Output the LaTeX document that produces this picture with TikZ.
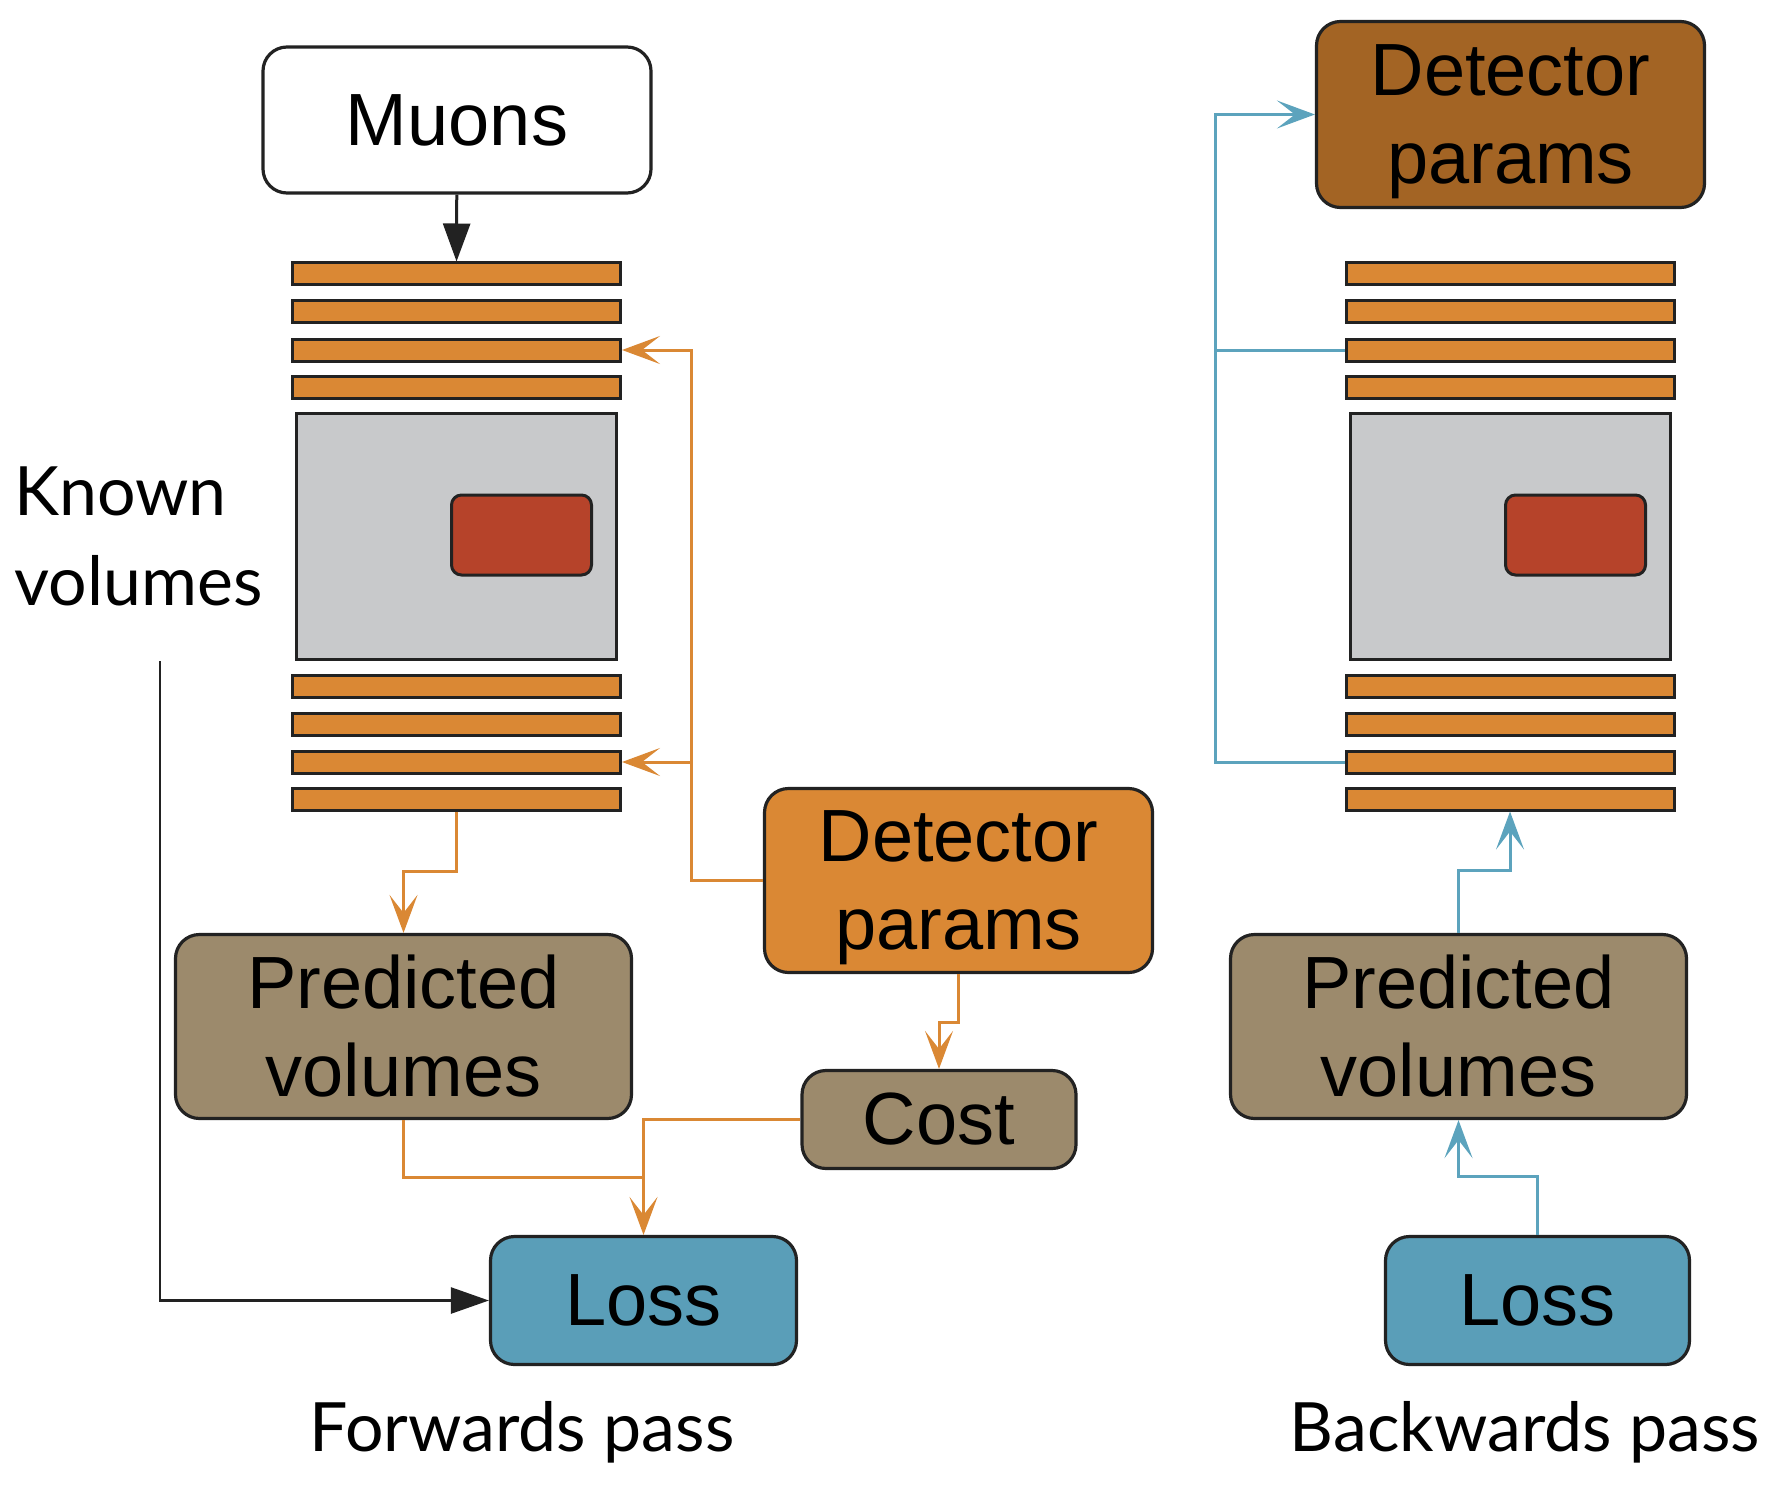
\documentclass[tikz,border=0pt]{standalone}
\usepackage{fontspec}
\setmainfont{Liberation Sans}
\newfontfamily\labelfont{Lato}
\usetikzlibrary{arrows.meta}

\definecolor{layerorange}{HTML}{DA8834}
\definecolor{voidgray}{HTML}{C8C9CB}
\definecolor{blockred}{HTML}{B6432A}
\definecolor{parambrown}{HTML}{A36424}
\definecolor{predtaupe}{HTML}{9C8A6C}
\definecolor{lossblue}{HTML}{5A9EB8}
\definecolor{gradblue}{HTML}{5CA3BD}
\definecolor{edgegray}{HTML}{222222}

\newcommand{\nodepth}[1]{\raisebox{0pt}[\height][0pt]{#1}}

\begin{document}
\begin{tikzpicture}[x=0.5pt, y=-0.5pt,
		box/.style={draw=edgegray, line width=1.6pt, rounded corners=12pt, inner sep=0pt,
			align=center, font=\fontsize{37}{44}\selectfont},
		layer/.style={draw=edgegray, fill=layerorange, line width=1.5pt, inner sep=0pt,
			minimum width=164pt, minimum height=11pt},
		void/.style={draw=edgegray, fill=voidgray, line width=1.5pt, inner sep=0pt,
			minimum width=160pt, minimum height=123pt},
		block/.style={draw=edgegray, fill=blockred, line width=1.5pt, inner sep=0pt,
			rounded corners=5pt, minimum width=70pt, minimum height=40pt},
		passlabel/.style={font=\labelfont\fontsize{34}{45}\selectfont, inner sep=0pt},
		fwd/.style={draw=layerorange, line width=1.5pt},
		fwdarrow/.style={fwd, -{Stealth[length=19pt, width=14pt, inset=9pt]}},
		bwd/.style={draw=gradblue, line width=1.5pt},
		bwdarrow/.style={bwd, -{Stealth[length=19pt, width=14pt, inset=9pt]}},
		known/.style={draw=edgegray, line width=1.3pt, -{Triangle[length=19pt, width=13pt]}}]
	\useasboundingbox (0,0) rectangle (1780,1492);

	% forwards pass
	\node[box, fill=white, minimum width=194pt, minimum height=73pt] (muons) at (457,120) {Muons};

	\foreach \y [count=\i] in {274, 312, 350, 387, 686, 724, 762, 799}
		\node[layer] (L\i) at (456.5,\y) {};
	\node[void] (voidL) at (456,536.5) {};
	\node[block] (blockL) at (521.5,535) {};

	\node[box, fill=layerorange, minimum width=194pt, minimum height=92pt] (detL) at (958.5,880.5) {Detector\\\nodepth{params}};
	\node[box, fill=predtaupe, minimum width=228pt, minimum height=92pt] (predL) at (403.5,1026.5) {Predicted\\volumes};
	\node[box, fill=predtaupe, minimum width=137pt, minimum height=49pt] (cost) at (939,1119.5) {Cost};
	\node[box, fill=lossblue, minimum width=153pt, minimum height=64pt] (lossL) at (643.5,1300.5) {Loss};

	\node[passlabel, anchor=west, align=left] (known) at (14,536) {Known\\volumes};
	\node[passlabel] (fwdlabel) at (522,1432) {Forwards pass};

	\coordinate (jL) at (691,0);
	\coordinate (kv) at (160,661);
	\coordinate (mergeL) at (643.5,1177);

	\draw[draw=edgegray, line width=1.5pt, -{Triangle[length=19pt, width=13.5pt]}] (muons) -- (L1);
	\draw[fwdarrow] (detL.west) -- (detL.west -| jL) |- (L3.east);
	\draw[fwdarrow] (detL.west -| jL) |- (L7.east);
	\draw[fwdarrow] (L8.south) -- ++(0,60) -| (predL.north);
	\draw[fwdarrow] (detL.south) -- ++(0,48) -| (cost.north);
	\draw[fwdarrow] (cost.west) -| (lossL.north);
	\draw[fwd] (predL.south) |- (mergeL);
	\draw[known] (kv) |- (lossL.west);

	% backwards pass
	\node[box, fill=parambrown, minimum width=194pt, minimum height=93pt] (detR) at (1510.5,114.5) {Detector\\\nodepth{params}};

	\foreach \y [count=\i] in {274, 312, 350, 387, 686, 724, 762, 799}
		\node[layer] (R\i) at (1510,\y) {};
	\node[void] (voidR) at (1510,536.5) {};
	\node[block] (blockR) at (1575.5,535) {};

	\node[box, fill=predtaupe, minimum width=228pt, minimum height=92pt] (predR) at (1458.5,1026.5) {Predicted\\volumes};
	\node[box, fill=lossblue, minimum width=152pt, minimum height=64pt] (lossR) at (1537.5,1300.5) {Loss};

	\node[passlabel] (bwdlabel) at (1525,1432) {Backwards pass};

	\coordinate (jR) at (1215,0);

	\draw[bwdarrow] (R7.west) -| (jR |- detR.west) -- (detR.west);
	\draw[bwd] (R3.west) -- (R3.west -| jR);
	\draw[bwdarrow] (predR.north) -- ++(0,-62) -| (R8.south);
	\draw[bwdarrow] (lossR.north) -- ++(0,-58) -| (predR.south);
\end{tikzpicture}
\end{document}
